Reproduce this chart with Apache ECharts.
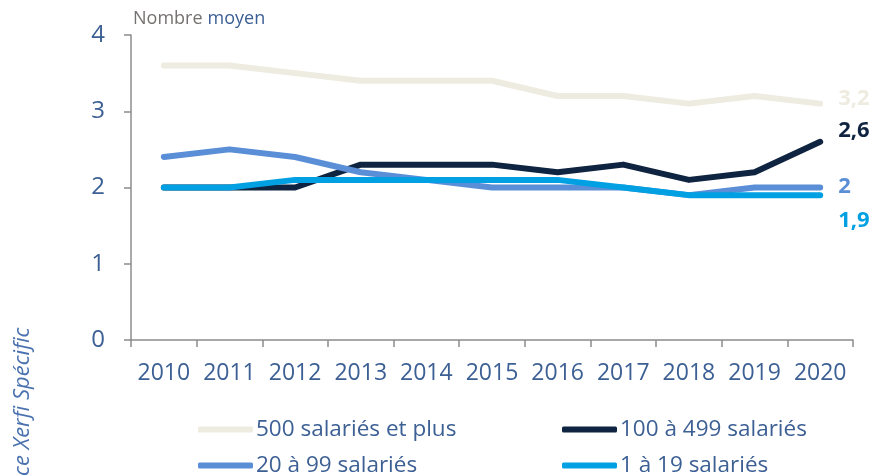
<!DOCTYPE html>
<html>
<head>
<meta charset="utf-8">
<script src="https://cdn.jsdelivr.net/npm/echarts@6/dist/echarts.min.js"></script>
<style>
  html, body { margin: 0; padding: 0; background: #fff; }
  #chart { width: 877px; height: 476px; }
</style>
</head>
<body>
<div id="chart"></div>
<script>
// données
const years = ['2010', '2011', '2012', '2013', '2014', '2015', '2016', '2017', '2018', '2019', '2020']
const seriesNames = ['500 salariés et plus', '100 à 499 salariés', '20 à 99 salariés', '1 à 19 salariés']
const s500plus = [3.6, 3.6, 3.5, 3.4, 3.4, 3.4, 3.2, 3.2, 3.1, 3.2, 3.1]
const s100to499 = [2.0, 2.0, 2.0, 2.3, 2.3, 2.3, 2.2, 2.3, 2.1, 2.2, 2.6]
const s20to99 = [2.4, 2.5, 2.4, 2.2, 2.1, 2.0, 2.0, 2.0, 1.9, 2.0, 2.0]
const s1to19 = [2.0, 2.0, 2.1, 2.1, 2.1, 2.1, 2.1, 2.0, 1.9, 1.9, 1.9]
const endLabels = ['3,2', '2,6', '2', '1,9']
const yTicks = [0, 1, 2, 3, 4]

const colors = ['#EEEBE0', '#0F2440', '#5A8ED6', '#00A0E2']
const labelOffsets = [[4, -5], [4, -11], [4, -1], [4, 26]]
const blue = '#3C5F94'
const font = 'Open Sans'

const chart = echarts.init(document.getElementById('chart'))

const allData = [s500plus, s100to499, s20to99, s1to19]

const series = allData.map((d, i) => {
  return {
    name: seriesNames[i],
    type: 'line',
    data: d,
    symbol: 'none',
    smooth: false,
    lineStyle: { color: colors[i], width: 6, cap: 'round', join: 'round' },
    itemStyle: { color: colors[i] },
    endLabel: {
      show: true,
      formatter: endLabels[i],
      color: colors[i],
      fontFamily: font,
      fontWeight: 'bold',
      fontSize: 22,
      distance: 14,
      offset: labelOffsets[i]
    },
    z: 2 + i
  }
})

// une légende par élément pour caler les colonnes
const legendPos = [
  { left: 198, top: 418 },
  { left: 562, top: 418 },
  { left: 198, top: 454 },
  { left: 562, top: 454 }
]
const legends = seriesNames.map((n, i) => {
  return {
    data: [{ name: n, icon: 'roundRect' }],
    left: legendPos[i].left,
    top: legendPos[i].top,
    itemWidth: 55,
    itemHeight: 6,
    itemGap: 0,
    padding: 0,
    textStyle: { color: blue, fontFamily: font, fontSize: 22.5, padding: [0, 0, 0, -2] },
    selectedMode: false
  }
})

const option = {
  animation: false,
  grid: { left: 131, right: 24, top: 35, bottom: 136 },
  legend: legends,
  title: {
    text: '{a|Nombre} {b|moyen}',
    left: 133,
    top: 10,
    padding: 0,
    textStyle: {
      rich: {
        a: { color: '#767171', fontFamily: font, fontSize: 18, fontWeight: 'normal' },
        b: { color: blue, fontFamily: font, fontSize: 18, fontWeight: 'normal' }
      }
    }
  },
  graphic: [{
    type: 'text',
    x: 23,
    y: 476,
    rotation: Math.PI / 2,
    style: {
      text: 'ce Xerfi Spécific',
      fill: '#4A72AE',
      font: 'italic 22px "Open Sans"',
      textAlign: 'left',
      textVerticalAlign: 'middle'
    }
  }],
  xAxis: {
    type: 'category',
    data: years,
    boundaryGap: true,
    axisLine: { lineStyle: { color: '#8C8C8C', width: 1.5 } },
    axisTick: { show: true, interval: 0, length: 7, lineStyle: { color: '#8C8C8C', width: 1.5 } },
    axisLabel: { interval: 0, hideOverlap: false, color: blue, fontFamily: font, fontSize: 23, margin: 22 }
  },
  yAxis: {
    type: 'value',
    min: yTicks[0],
    max: yTicks[yTicks.length - 1],
    interval: 1,
    splitLine: { show: false },
    axisLine: { show: true, lineStyle: { color: '#8C8C8C', width: 1.5 } },
    axisTick: { show: true, length: 7, lineStyle: { color: '#8C8C8C', width: 1.5 } },
    axisLabel: { color: blue, fontFamily: font, fontSize: 24, margin: 26 }
  },
  series: series
}

chart.setOption(option)
</script>
</body>
</html>
